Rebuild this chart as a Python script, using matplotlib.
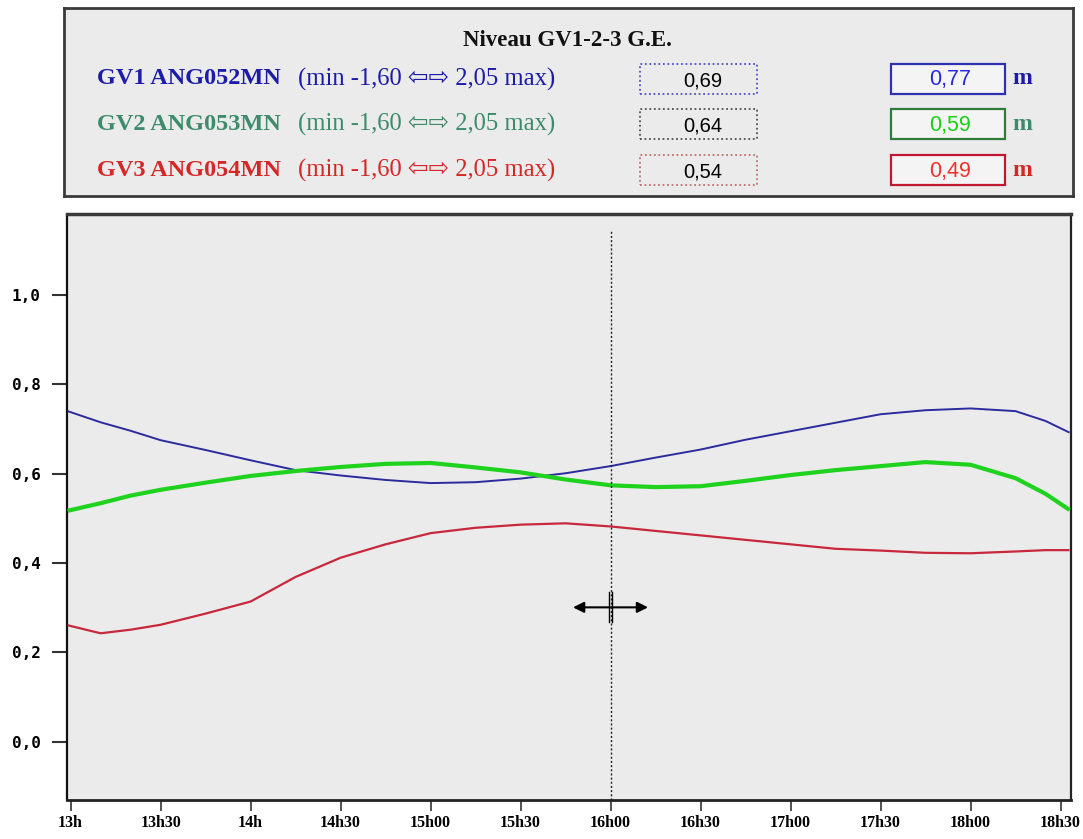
import matplotlib
matplotlib.use("Agg")
import matplotlib.pyplot as plt
from matplotlib.patches import Rectangle

W, H = 1083, 839

# Time axis in minutes after 13h00
minutes = [-1, 10, 20, 30, 45, 60, 75, 90, 105, 120, 135, 150, 165, 180,
           195, 210, 225, 240, 255, 270, 285, 300, 315, 325, 333]
gv1 = [0.740, 0.715, 0.696, 0.675, 0.653, 0.630, 0.608, 0.596, 0.586, 0.579,
       0.581, 0.589, 0.601, 0.617, 0.636, 0.654, 0.676, 0.695, 0.714, 0.733,
       0.742, 0.746, 0.740, 0.718, 0.692]
gv2 = [0.517, 0.534, 0.551, 0.564, 0.580, 0.595, 0.606, 0.615, 0.622, 0.624,
       0.614, 0.603, 0.587, 0.574, 0.570, 0.572, 0.584, 0.597, 0.608, 0.617,
       0.626, 0.620, 0.590, 0.555, 0.519]
gv3 = [0.261, 0.243, 0.251, 0.262, 0.287, 0.314, 0.369, 0.412, 0.442, 0.467,
       0.479, 0.486, 0.489, 0.482, 0.472, 0.462, 0.452, 0.442, 0.432, 0.428,
       0.423, 0.422, 0.426, 0.429, 0.429]

x_tick_minutes = [0, 30, 60, 90, 120, 150, 180, 210, 240, 270, 300, 330]
x_tick_labels = ["13h", "13h30", "14h", "14h30", "15h00", "15h30", "16h00",
                 "16h30", "17h00", "17h30", "18h00", "18h30"]
y_ticks = [0.0, 0.2, 0.4, 0.6, 0.8, 1.0]
y_tick_labels = ["0,0", "0,2", "0,4", "0,6", "0,8", "1,0"]

cursor_minute = 180

title = "Niveau GV1-2-3 G.E."
names = ["GV1 ANG052MN", "GV2 ANG053MN", "GV3 ANG054MN"]
range_text = "(min -1,60 \u21e6\u21e8 2,05 max)"
cursor_values = ["0,69", "0,64", "0,54"]
current_values = ["0,77", "0,59", "0,49"]
unit = "m"

line_colors = ["#2b2b9e", "#1ed21e", "#c8283c"]
line_widths = [1.4, 3.0, 1.6]
name_colors = ["#1c1ca8", "#3c8c6c", "#d42828"]
value_colors = ["#2828e0", "#18d018", "#f03030"]
box_colors = ["#3030b0", "#2e7a3a", "#c01830"]
dot_colors = ["#5050c0", "#505050", "#c07070"]

BG = "#ebebeb"


def fx(px):
    return px / W


def fy(py):
    return 1 - py / H


fig = plt.figure(figsize=(W / 100, H / 100), dpi=100, facecolor="white")

# ---- header panel ----
panel = fig.add_axes([fx(64), fy(196), fx(1073) - fx(64), fy(8) - fy(196)])
panel.set_facecolor(BG)
panel.set_xticks([])
panel.set_yticks([])
for s in panel.spines.values():
    s.set_color("#3a3a3a")
    s.set_linewidth(2.0)

serif = ["Liberation Serif", "DejaVu Sans"]
fig.text(fx(567), fy(40), title, ha="center", va="center", fontsize=16.5,
         fontweight="bold", family=serif, color="#111111")

row_y = [79, 124, 170]
for i in range(3):
    y = row_y[i]
    fig.text(fx(97), fy(y), names[i], ha="left", va="center", fontsize=17.5,
             fontweight="bold", family=serif, color=name_colors[i])
    fig.text(fx(298), fy(y), range_text, ha="left", va="center", fontsize=17.7,
             family=serif, color=name_colors[i])
    # cursor value box (dotted)
    fig.patches.append(Rectangle((fx(640), fy(y + 15)), fx(757) - fx(640),
                                 fy(y - 15) - fy(y + 15), transform=fig.transFigure,
                                 fill=False, edgecolor=dot_colors[i], lw=1.3,
                                 linestyle=(0, (1, 1.5))))
    fig.text(fx(703), fy(y + 2), cursor_values[i], ha="center", va="center",
             fontsize=14.5, family="Liberation Sans", color="black")
    # current value box (solid)
    fig.patches.append(Rectangle((fx(891), fy(y + 15)), fx(1005) - fx(891),
                                 fy(y - 15) - fy(y + 15), transform=fig.transFigure,
                                 fill=True, facecolor="#f4f4f4",
                                 edgecolor=box_colors[i], lw=1.6))
    fig.text(fx(950), fy(y + 1), current_values[i], ha="center", va="center",
             fontsize=15.5, family="Liberation Sans", color=value_colors[i])
    fig.text(fx(1012), fy(y), unit, ha="left", va="center", fontsize=17,
             fontweight="bold", family=serif, color=name_colors[i])

# ---- trend chart ----
ax = fig.add_axes([fx(67), fy(800), fx(1071) - fx(67), fy(214) - fy(800)])
ax.set_facecolor(BG)
ax.set_xlim(-1.2, 333.5)
ax.set_ylim(-0.130, 1.181)

for ys, c, lw in zip([gv1, gv2, gv3], line_colors, line_widths):
    ax.plot(minutes, ys, color=c, lw=lw, solid_capstyle="butt", zorder=3)

# cursor
ax.plot([cursor_minute, cursor_minute], [-0.130, 1.145], color="#222222",
        lw=1.0, linestyle=(0, (1.5, 1.5)), zorder=4)
ax.annotate("", xy=(cursor_minute - 12.5, 0.301), xytext=(cursor_minute + 12.5, 0.301),
            arrowprops=dict(arrowstyle="<|-|>", color="black", lw=1.5,
                            mutation_scale=16, shrinkA=0, shrinkB=0), zorder=5)
for dx in (-0.45, 0.45):
    ax.plot([cursor_minute + dx, cursor_minute + dx], [0.268, 0.335],
            color="black", lw=1.0, zorder=6)

ax.set_xticks(x_tick_minutes)
ax.set_xticklabels(x_tick_labels, fontsize=11.5, fontweight="bold",
                   family="Liberation Serif")
ax.set_yticks(y_ticks)
ax.set_yticklabels(y_tick_labels, fontsize=11.5, fontweight="bold",
                   family="DejaVu Sans Mono")
ax.tick_params(axis="y", direction="out", length=11, width=1.5, pad=8,
               color="#333333")
ax.tick_params(axis="x", direction="out", length=8, width=1.2, pad=3,
               color="#333333")

ax.spines["left"].set_linestyle((0, (2, 1)))
ax.spines["left"].set_linewidth(1.6)
ax.spines["left"].set_color("#111111")
ax.spines["top"].set_linewidth(2.5)
ax.spines["top"].set_color("#3a3a3a")
ax.spines["right"].set_linewidth(1.6)
ax.spines["right"].set_color("#222222")
ax.spines["bottom"].set_linewidth(2.0)
ax.spines["bottom"].set_color("#222222")

fig.savefig("out.png", dpi=100, facecolor="white")
